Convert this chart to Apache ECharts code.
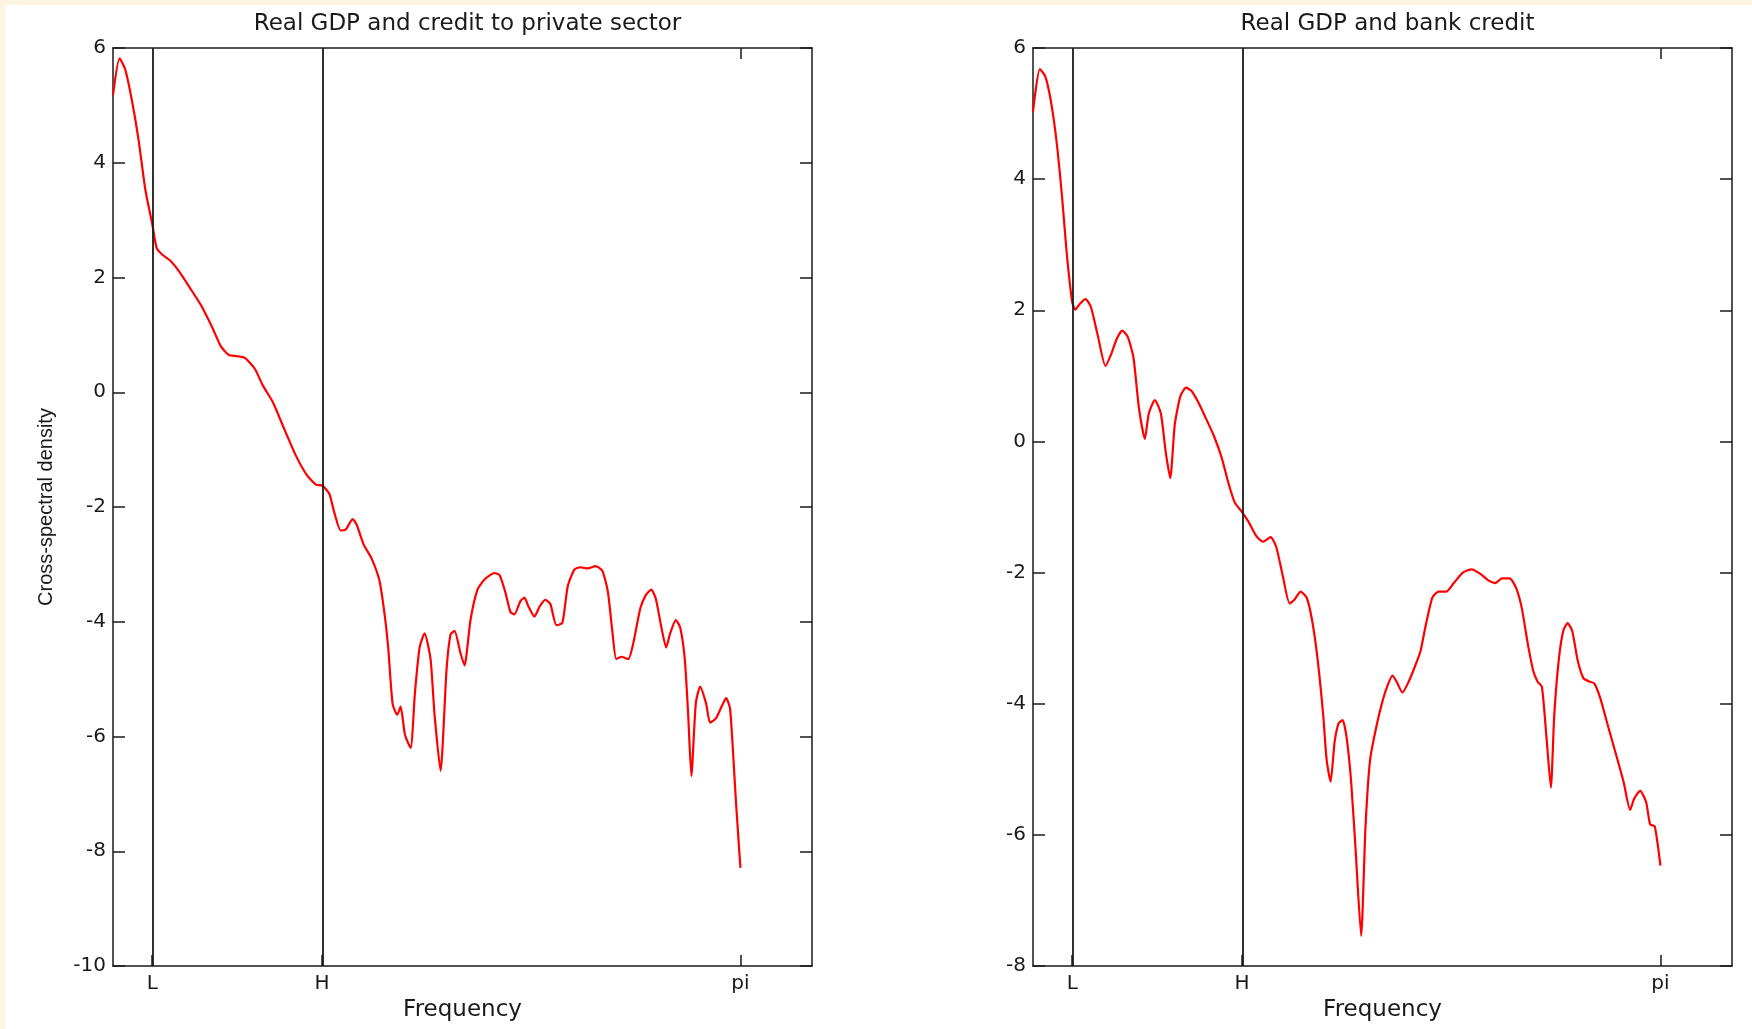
<!DOCTYPE html>
<html>
<head>
<meta charset="utf-8">
<title>Cross-spectral density</title>
<script src="https://cdn.jsdelivr.net/npm/echarts@6/dist/echarts.min.js"></script>
<style>
  html, body { margin: 0; padding: 0; background: #fdf5e2; }
  #chart { position: absolute; left: 5px; top: 5px; width: 1747px; height: 1024px; background: #fff; }
</style>
</head>
<body>
<div id="chart"></div>
<script>
// band limits: 32 and 6 quarters, and pi
const bandTicks = [2 * Math.PI / 32, 2 * Math.PI / 6, Math.PI];
const bandLabels = ["L", "H", "pi"];

const titles = ["Real GDP and credit to private sector", "Real GDP and bank credit"];

const freqLeft = [
  0, 0.033, 0.061, 0.095, 0.128, 0.162, 0.196, 0.218, 0.246, 0.285,
  0.33, 0.385, 0.44, 0.497, 0.54, 0.58, 0.62, 0.66, 0.71, 0.75,
  0.80, 0.86, 0.915, 0.97, 1.016, 1.049, 1.083, 1.11, 1.14, 1.166,
  1.2, 1.22, 1.256, 1.295, 1.334, 1.36, 1.378, 1.40, 1.423, 1.44,
  1.462, 1.49, 1.512, 1.535, 1.56, 1.59, 1.61, 1.64, 1.67, 1.69,
  1.71, 1.74, 1.76, 1.79, 1.825, 1.864, 1.91, 1.936, 1.964, 1.99,
  2.01, 2.04, 2.06, 2.08, 2.11, 2.137, 2.165, 2.19, 2.22, 2.25,
  2.277, 2.31, 2.34, 2.377, 2.416, 2.45, 2.478, 2.5, 2.52, 2.545,
  2.58, 2.606, 2.64, 2.667, 2.695, 2.718, 2.746, 2.77, 2.79, 2.818,
  2.84, 2.863, 2.88, 2.896, 2.918, 2.94, 2.97, 2.99, 3.02, 3.047,
  3.07, 3.09, 3.12, 3.1416
];
const densLeft = [
  5.18, 5.82, 5.63, 5.08, 4.40, 3.53, 2.94, 2.52, 2.40, 2.30,
  2.11, 1.82, 1.52, 1.13, 0.80, 0.65, 0.63, 0.60, 0.41, 0.12,
  -0.17, -0.66, -1.1, -1.44, -1.61, -1.63, -1.77, -2.12, -2.41, -2.39,
  -2.21, -2.31, -2.66, -2.9, -3.28, -3.87, -4.45, -5.43, -5.62, -5.48,
  -5.97, -6.2, -5.23, -4.45, -4.2, -4.65, -5.62, -6.6, -4.84, -4.22,
  -4.16, -4.55, -4.76, -3.97, -3.44, -3.25, -3.15, -3.19, -3.48, -3.83,
  -3.87, -3.64, -3.58, -3.73, -3.91, -3.73, -3.62, -3.69, -4.06, -4.02,
  -3.38, -3.09, -3.05, -3.07, -3.03, -3.11, -3.48, -4.16, -4.65, -4.61,
  -4.65, -4.36, -3.77, -3.54, -3.44, -3.60, -4.1, -4.45, -4.2, -3.97,
  -4.1, -4.65, -5.62, -6.69, -5.43, -5.13, -5.43, -5.76, -5.68, -5.48,
  -5.33, -5.52, -7.18, -8.29
];

const freqRight = [
  0, 0.034, 0.061, 0.089, 0.117, 0.145, 0.168, 0.196, 0.212, 0.235,
  0.263, 0.29, 0.324, 0.363, 0.39, 0.42, 0.447, 0.475, 0.503, 0.53,
  0.56, 0.58, 0.61, 0.64, 0.665, 0.687, 0.71, 0.738, 0.766, 0.794,
  0.827, 0.866, 0.905, 0.945, 0.978, 1.01, 1.045, 1.078, 1.118, 1.15,
  1.19, 1.218, 1.25, 1.285, 1.31, 1.34, 1.37, 1.397, 1.425, 1.453,
  1.47, 1.49, 1.51, 1.53, 1.55, 1.57, 1.593, 1.615, 1.643, 1.665,
  1.688, 1.72, 1.75, 1.777, 1.8, 1.82, 1.85, 1.877, 1.905, 1.94,
  1.966, 2.0, 2.03, 2.07, 2.107, 2.152, 2.197, 2.24, 2.28, 2.314,
  2.348, 2.387, 2.42, 2.448, 2.476, 2.504, 2.526, 2.548, 2.571, 2.593,
  2.61, 2.633, 2.655, 2.677, 2.7, 2.728, 2.756, 2.784, 2.81, 2.84,
  2.879, 2.918, 2.957, 2.99, 3.01, 3.04, 3.07, 3.09, 3.113, 3.1416
];
const densRight = [
  5.03, 5.68, 5.57, 5.2, 4.6, 3.75, 2.90, 2.13, 2.01, 2.1,
  2.17, 2.05, 1.62, 1.15, 1.32, 1.57, 1.69, 1.59, 1.28, 0.52,
  0.04, 0.43, 0.63, 0.43, -0.17, -0.56, 0.26, 0.69, 0.82, 0.77,
  0.60, 0.35, 0.09, -0.25, -0.63, -0.93, -1.07, -1.22, -1.44, -1.53,
  -1.46, -1.61, -2.04, -2.47, -2.41, -2.29, -2.38, -2.72, -3.32, -4.17,
  -4.85, -5.19, -4.59, -4.3, -4.25, -4.51, -5.19, -6.21, -7.54, -5.87,
  -4.85, -4.34, -3.96, -3.71, -3.57, -3.66, -3.83, -3.69, -3.49, -3.2,
  -2.81, -2.38, -2.29, -2.29, -2.16, -2.0, -1.95, -2.02, -2.12, -2.16,
  -2.09, -2.09, -2.24, -2.55, -3.06, -3.49, -3.66, -3.74, -4.51, -5.28,
  -4.17, -3.32, -2.89, -2.77, -2.89, -3.35, -3.61, -3.66, -3.69, -3.91,
  -4.34, -4.76, -5.19, -5.62, -5.45, -5.33, -5.5, -5.84, -5.87, -6.47
];

const yMin = [-10, -8];

// the source picture was stretched sideways, so its text runs wide
const wide = "DejaVu Sans, Verdana, sans-serif";
const narrow = "Liberation Sans, Arial, sans-serif";
const ink = "#1a1a1a";
const grids = [
  { left: 108, top: 43, width: 699, height: 918 },
  { left: 1028, top: 43, width: 699, height: 918 },
];

const xAxes = [];
const yAxes = [];
grids.forEach((g, i) => {
  const base = {
    gridIndex: i, type: "value", min: 0, max: 3.5,
    splitLine: { show: false },
    axisLine: { onZero: false, lineStyle: { color: ink, width: 1.5 } },
  };
  xAxes.push({
    ...base, position: "bottom",
    name: "Frequency", nameLocation: "middle", nameGap: 31,
    nameTextStyle: { fontFamily: wide, fontSize: 23, color: ink },
    axisTick: { inside: true, length: 11, customValues: bandTicks, lineStyle: { color: ink, width: 1.5 } },
    axisLabel: {
      customValues: bandTicks, margin: 8, fontFamily: wide, fontSize: 20, color: ink,
      formatter: (v) => bandLabels[bandTicks.findIndex((t) => Math.abs(t - v) < 1e-6)] || "",
    },
  });
  xAxes.push({
    ...base, position: "top",
    axisTick: { inside: true, length: 11, customValues: [Math.PI], lineStyle: { color: ink, width: 1.5 } },
    axisLabel: { show: false },
  });
  const ybase = {
    gridIndex: i, type: "value", min: yMin[i], max: 6, interval: 2,
    splitLine: { show: false },
    axisLine: { onZero: false, lineStyle: { color: ink, width: 1.5 } },
    axisTick: { inside: true, length: 12, lineStyle: { color: ink, width: 1.5 } },
  };
  yAxes.push({
    ...ybase, position: "left",
    name: i === 0 ? "Cross-spectral density" : "",
    nameLocation: "middle", nameGap: 57,
    nameTextStyle: { fontFamily: narrow, fontSize: 20, color: ink },
    axisLabel: { margin: 7, fontFamily: wide, fontSize: 20, color: ink },
  });
  yAxes.push({ ...ybase, position: "right", axisLabel: { show: false } });
});

const bandLine = {
  silent: true, symbol: "none", label: { show: false },
  lineStyle: { color: ink, type: "solid", width: 1.8 },
  data: [{ xAxis: bandTicks[0] }, { xAxis: bandTicks[1] }],
};

const series = [
  [freqLeft, densLeft],
  [freqRight, densRight],
].map(([fx, fy], i) => ({
  type: "line",
  xAxisIndex: i * 2, yAxisIndex: i * 2,
  data: fx.map((f, k) => [f, fy[k]]),
  showSymbol: false, smooth: 0.2,
  lineStyle: { color: "#ff0000", width: 2.2 },
  markLine: bandLine,
  z: 3,
}));

const chart = echarts.init(document.getElementById("chart"));
chart.setOption({
  animation: false,
  backgroundColor: "#fff",
  title: titles.map((t, i) => ({
    text: t,
    left: grids[i].left + grids[i].width / 2, top: 3, textAlign: "center",
    textStyle: { fontFamily: wide, fontSize: 23, fontWeight: "normal", color: ink },
  })),
  grid: grids,
  xAxis: xAxes,
  yAxis: yAxes,
  series,
});
</script>
</body>
</html>
